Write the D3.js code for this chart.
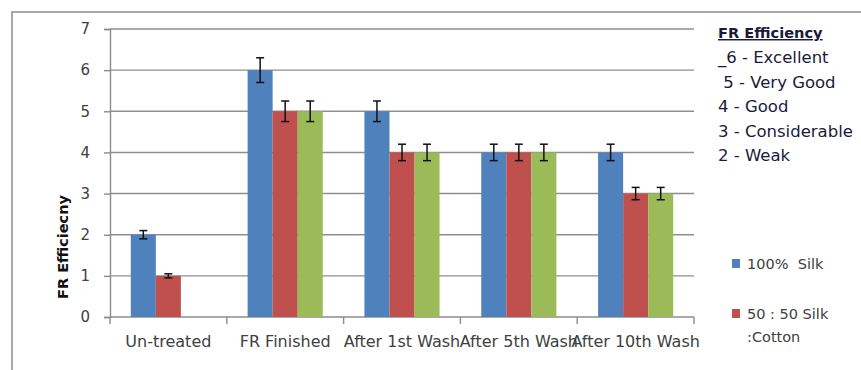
<!DOCTYPE html>
<html>
<head>
<meta charset="utf-8">
<script src="https://cdn.jsdelivr.net/npm/d3@7"></script>
<style>
  body { margin: 0; background: #fff; }
  svg { display: block; }
</style>
</head>
<body>
<div id="chart"></div>
<script>
const categories = ["Un-treated", "FR Finished", "After 1st Wash", "After 5th Wash", "After 10th Wash"];
const seriesNames = ["100%  Silk", "50 : 50 Silk", "Series 3"];
const silk = [2, 6, 5, 4, 4];
const silkCotton = [1, 5, 4, 4, 3];
const third = [null, 5, 4, 4, 3];
const silkErr = [0.1, 0.3, 0.25, 0.2, 0.2];
const silkCottonErr = [0.05, 0.25, 0.2, 0.2, 0.15];
const thirdErr = [null, 0.25, 0.2, 0.2, 0.15];
const yTicks = [0, 1, 2, 3, 4, 5, 6, 7];
const ratingLines = ["_6 - Excellent", " 5 - Very Good", "4 - Good", "3 - Considerable", "2 - Weak"];

const colors = ["#4F81BD", "#C0504D", "#9BBB59"];
const width = 861, height = 370;
const plot = {left: 110, right: 694, top: 29, bottom: 317};

const svg = d3.select("#chart").append("svg")
    .attr("width", width)
    .attr("height", height);

// outer chart frame
svg.append("rect")
    .attr("x", 12).attr("y", 12)
    .attr("width", 900).attr("height", 400)
    .attr("fill", "none")
    .attr("stroke", "#8c8c8c")
    .attr("stroke-width", 1.5);

const x = d3.scaleBand()
    .domain(categories)
    .range([plot.left, plot.right])
    .paddingInner(0.357)
    .paddingOuter(0.178);

const x1 = d3.scaleBand()
    .domain(d3.range(3))
    .range([0, x.bandwidth()]);

const y = d3.scaleLinear()
    .domain([0, 7])
    .range([plot.bottom, plot.top]);

// gridlines
svg.append("g")
    .selectAll("line")
    .data(yTicks.slice(1))
    .enter()
    .append("line")
    .attr("x1", plot.left).attr("x2", plot.right)
    .attr("y1", d => y(d)).attr("y2", d => y(d))
    .attr("stroke", "#8f8f8f")
    .attr("stroke-width", 1.4);

// y axis
const yAxis = svg.append("g")
    .attr("transform", `translate(${plot.left},0)`)
    .call(d3.axisLeft(y).tickValues(yTicks).tickFormat(d3.format("d")).tickSize(6).tickPadding(14));
yAxis.select(".domain").attr("stroke", "#8c8c8c").attr("stroke-width", 1.4);
yAxis.selectAll(".tick line").attr("stroke", "#8c8c8c").attr("stroke-width", 1.4);
yAxis.selectAll("text")
    .attr("fill", "#404040")
    .style("font-family", "DejaVu Sans")
    .style("font-size", "15px");

// x axis
const xAxisScale = d3.scaleLinear().domain([0, 5]).range([plot.left, plot.right]);
const xg = svg.append("g");
xg.append("line")
    .attr("x1", plot.left).attr("x2", plot.right)
    .attr("y1", plot.bottom).attr("y2", plot.bottom)
    .attr("stroke", "#8c8c8c").attr("stroke-width", 1.4);
xg.selectAll(".xt")
    .data(d3.range(6))
    .enter()
    .append("line")
    .attr("x1", d => xAxisScale(d)).attr("x2", d => xAxisScale(d))
    .attr("y1", plot.bottom).attr("y2", plot.bottom + 7)
    .attr("stroke", "#8c8c8c").attr("stroke-width", 1.4);
xg.selectAll("text")
    .data(categories)
    .enter()
    .append("text")
    .attr("x", d => x(d) + x.bandwidth() / 2)
    .attr("y", 347)
    .attr("text-anchor", "middle")
    .attr("fill", "#404040")
    .style("font-family", "DejaVu Sans")
    .style("font-size", "16px")
    .text(d => d);

// bars
const series = [silk, silkCotton, third];
const errs = [silkErr, silkCottonErr, thirdErr];
series.forEach((vals, si) => {
    const pts = categories.map((c, i) => ({c: c, v: vals[i], e: errs[si][i]})).filter(d => d.v != null);
    svg.append("g")
        .selectAll("rect")
        .data(pts)
        .enter()
        .append("rect")
        .attr("x", d => x(d.c) + x1(si))
        .attr("y", d => y(d.v))
        .attr("width", x1.bandwidth())
        .attr("height", d => y(0) - y(d.v))
        .attr("fill", colors[si]);

    const eb = svg.append("g")
        .attr("stroke", "#111")
        .attr("stroke-width", 1.5)
        .selectAll("g")
        .data(pts)
        .enter()
        .append("g");
    const cx = d => x(d.c) + x1(si) + x1.bandwidth() / 2;
    eb.append("line")
        .attr("x1", cx).attr("x2", cx)
        .attr("y1", d => y(d.v + d.e)).attr("y2", d => y(d.v - d.e));
    eb.append("line")
        .attr("x1", d => cx(d) - 4).attr("x2", d => cx(d) + 4)
        .attr("y1", d => y(d.v + d.e)).attr("y2", d => y(d.v + d.e));
    eb.append("line")
        .attr("x1", d => cx(d) - 4).attr("x2", d => cx(d) + 4)
        .attr("y1", d => y(d.v - d.e)).attr("y2", d => y(d.v - d.e));
});

// y axis title
svg.append("text")
    .attr("transform", "translate(68,247) rotate(-90)")
    .attr("text-anchor", "middle")
    .style("font-family", "DejaVu Sans")
    .style("font-weight", "bold")
    .style("font-size", "14.5px")
    .attr("fill", "#111")
    .text("FR Efficiecny");

// rating notes
svg.append("text")
    .attr("x", 718).attr("y", 38)
    .style("font-family", "DejaVu Sans")
    .style("font-weight", "bold")
    .style("font-size", "14.6px")
    .style("text-decoration", "underline")
    .attr("fill", "#1a1a3a")
    .text("FR Efficiency");
svg.append("g")
    .selectAll("text")
    .data(ratingLines)
    .enter()
    .append("text")
    .attr("x", 718)
    .attr("y", (d, i) => 63 + i * 24.6)
    .style("white-space", "pre")
    .style("font-family", "DejaVu Sans")
    .style("font-size", "16.5px")
    .attr("fill", "#1a1a3a")
    .text(d => d);

// legend
const legend = svg.append("g");
[0, 1].forEach(i => {
    legend.append("rect")
        .attr("x", 732).attr("y", 259 + i * 50)
        .attr("width", 8).attr("height", 9)
        .attr("fill", colors[i]);
});
legend.append("text")
    .attr("x", 747).attr("y", 269)
    .style("white-space", "pre")
    .style("font-family", "DejaVu Sans")
    .style("font-size", "14.5px")
    .attr("fill", "#404040")
    .text(seriesNames[0]);
legend.append("text")
    .attr("x", 747).attr("y", 319)
    .style("font-family", "DejaVu Sans")
    .style("font-size", "14.5px")
    .attr("fill", "#404040")
    .text(seriesNames[1]);
legend.append("text")
    .attr("x", 747).attr("y", 342)
    .style("font-family", "DejaVu Sans")
    .style("font-size", "14.5px")
    .attr("fill", "#404040")
    .text(":Cotton");
</script>
</body>
</html>
